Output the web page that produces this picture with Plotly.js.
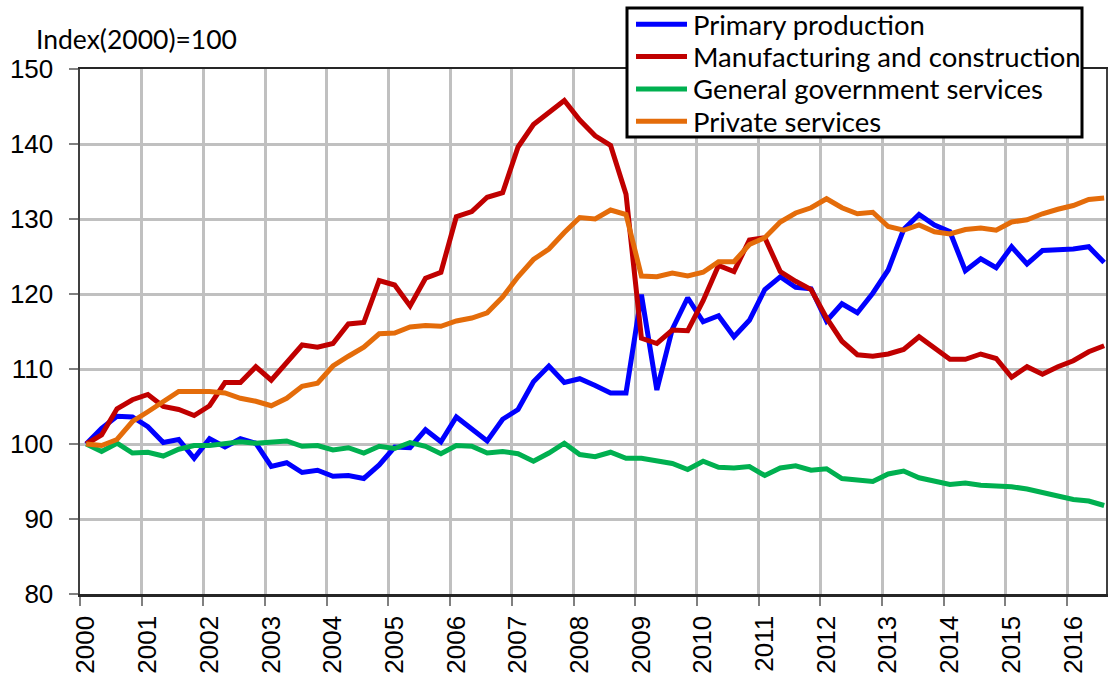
<!DOCTYPE html>
<html>
<head>
<meta charset="utf-8">
<script src="https://cdn.plot.ly/plotly-3.0.1.min.js"></script>
<style>
html,body{margin:0;padding:0;background:#fff;}
#chart{width:1108px;height:675px;}
</style>
</head>
<body>
<div id="chart"></div>
<script>
// Quarters 2000Q1 .. 2016Q3
const quarters = [
 "2000Q1","2000Q2","2000Q3","2000Q4","2001Q1","2001Q2","2001Q3","2001Q4",
 "2002Q1","2002Q2","2002Q3","2002Q4","2003Q1","2003Q2","2003Q3","2003Q4",
 "2004Q1","2004Q2","2004Q3","2004Q4","2005Q1","2005Q2","2005Q3","2005Q4",
 "2006Q1","2006Q2","2006Q3","2006Q4","2007Q1","2007Q2","2007Q3","2007Q4",
 "2008Q1","2008Q2","2008Q3","2008Q4","2009Q1","2009Q2","2009Q3","2009Q4",
 "2010Q1","2010Q2","2010Q3","2010Q4","2011Q1","2011Q2","2011Q3","2011Q4",
 "2012Q1","2012Q2","2012Q3","2012Q4","2013Q1","2013Q2","2013Q3","2013Q4",
 "2014Q1","2014Q2","2014Q3","2014Q4","2015Q1","2015Q2","2015Q3","2015Q4",
 "2016Q1","2016Q2","2016Q3"
];

const primaryProduction = [
 100.0,102.1,103.7,103.6,102.3,100.2,100.6,98.1,100.7,99.6,
 100.7,100.1,97.0,97.5,96.2,96.5,95.7,95.8,95.4,97.2,
 99.6,99.5,101.9,100.3,103.6,102.0,100.4,103.3,104.6,108.3,
 110.4,108.2,108.7,107.8,106.8,106.8,119.9,107.2,115.3,119.5,
 116.3,117.1,114.3,116.5,120.6,122.3,120.9,120.7,116.4,118.7,
 117.5,120.1,123.2,128.6,130.6,129.2,128.3,123.1,124.7,123.5,
 126.3,124.0,125.8,125.9,126.0,126.3,124.2
];

const manufacturingConstruction = [
 100.0,101.2,104.7,105.9,106.6,105.0,104.6,103.8,105.1,108.2,
 108.2,110.3,108.5,110.8,113.2,112.9,113.4,116.0,116.2,121.8,
 121.2,118.4,122.1,122.9,130.3,131.0,132.9,133.5,139.6,142.6,
 144.1,145.8,143.2,141.1,139.8,133.3,114.1,113.4,115.2,115.1,
 119.1,123.8,123.0,127.2,127.5,123.0,121.7,120.6,116.8,113.7,
 111.9,111.7,112.0,112.6,114.3,112.8,111.3,111.3,112.0,111.4,
 108.9,110.3,109.3,110.3,111.1,112.3,113.1
];

const generalGovernment = [
 100.0,99.0,100.1,98.8,98.9,98.4,99.3,99.8,99.8,100.0,
 100.3,100.1,100.3,100.4,99.7,99.8,99.2,99.5,98.8,99.7,
 99.4,100.2,99.7,98.7,99.8,99.7,98.8,99.0,98.7,97.7,
 98.8,100.1,98.6,98.3,98.9,98.1,98.1,97.8,97.4,96.6,
 97.7,96.9,96.8,97.0,95.8,96.8,97.1,96.5,96.7,95.4,
 95.2,95.0,96.0,96.4,95.5,95.0,94.6,94.8,94.5,94.4,
 94.3,94.0,93.5,93.1,92.6,92.4,91.8
];

const privateServices = [
 100.0,99.8,100.6,103.0,104.3,105.7,107.0,107.0,107.0,106.8,
 106.1,105.7,105.1,106.1,107.7,108.1,110.4,111.7,112.9,114.7,
 114.8,115.6,115.8,115.7,116.4,116.8,117.5,119.6,122.3,124.6,
 126.0,128.2,130.2,130.0,131.2,130.6,122.4,122.3,122.8,122.4,
 122.9,124.3,124.3,126.6,127.5,129.6,130.8,131.5,132.7,131.5,
 130.7,130.9,129.0,128.5,129.2,128.3,128.0,128.6,128.8,128.5,
 129.6,129.9,130.7,131.3,131.8,132.6,132.8
];

const seriesNames = ["Primary production","Manufacturing and construction","General government services","Private services"];
const yearTicks = [2000,2001,2002,2003,2004,2005,2006,2007,2008,2009,2010,2011,2012,2013,2014,2015,2016];
const yTicks = [80,90,100,110,120,130,140,150];

// quarter label -> position on the continuous year axis
const xPos = quarters.map(q => {
  const y = parseInt(q.slice(0,4),10);
  const n = parseInt(q.slice(5),10);
  return y + (n - 1) / 4 + 0.1;
});

const colors = ["#0000FF","#C00000","#00B050","#E46C0A"];
const seriesData = [primaryProduction, manufacturingConstruction, generalGovernment, privateServices];

const traces = seriesData.map((d, k) => ({
  x: xPos, y: d, type: "scatter", mode: "lines", name: seriesNames[k],
  line: {color: colors[k], width: 5}, showlegend: false
}));

// layout geometry (pixels) -> paper coordinates
const W = 1108, H = 675;
const M = {l: 80, r: 2, t: 69, b: 81};
const PW = W - M.l - M.r, PH = H - M.t - M.b;
const px = v => (v - M.l) / PW;
const py = v => (H - M.b - v) / PH;

const textFont = "Lato, 'Open Sans', sans-serif";
const tickFont = {family: "'Liberation Sans', Arial, sans-serif", size: 26, color: "#000"};

// custom legend (box + line samples + labels)
const legendBox = {x0: 627, x1: 1082, y0: 8, y1: 137};
const legendRowY = [24.3, 56.6, 89, 121.3];
const shapes = [{
  type: "rect", xref: "paper", yref: "paper", layer: "above",
  x0: px(legendBox.x0), x1: px(legendBox.x1), y0: py(legendBox.y1), y1: py(legendBox.y0),
  fillcolor: "#fff", line: {color: "#000", width: 3}
}];
const annotations = [{
  text: "Index(2000)=100", xref: "paper", yref: "paper",
  x: px(34), y: py(39), xanchor: "left", yanchor: "middle",
  showarrow: false, font: {family: textFont, size: 26.5, color: "#000"}
}];
seriesNames.forEach((name, k) => {
  shapes.push({
    type: "line", xref: "paper", yref: "paper", layer: "above",
    x0: px(636), x1: px(687), y0: py(legendRowY[k]), y1: py(legendRowY[k]),
    line: {color: colors[k], width: 5}
  });
  annotations.push({
    text: name, xref: "paper", yref: "paper",
    x: px(691), y: py(legendRowY[k]), xanchor: "left", yanchor: "middle",
    showarrow: false, font: {family: textFont, size: 27.5, color: "#000"}
  });
});

const layout = {
  width: W, height: H,
  margin: {l: M.l, r: M.r, t: M.t, b: M.b, pad: 0},
  paper_bgcolor: "#fff", plot_bgcolor: "#fff",
  showlegend: false,
  xaxis: {
    range: [2000, 2016.63], tickmode: "array", tickvals: yearTicks,
    ticktext: yearTicks.map(String), tickangle: -90, ticklabelshift: 6,
    showgrid: true, gridcolor: "#C0C0C0", gridwidth: 3,
    showline: true, linecolor: "#262626", linewidth: 2.5, mirror: true,
    ticks: "outside", ticklen: 9, tickwidth: 2, tickcolor: "#808080",
    tickfont: tickFont, zeroline: false
  },
  yaxis: {
    range: [80, 150], tickmode: "array", tickvals: yTicks,
    showgrid: true, gridcolor: "#C0C0C0", gridwidth: 3,
    showline: true, linecolor: "#404040", linewidth: 2.5, mirror: true,
    ticks: "outside", ticklen: 9, tickwidth: 2, tickcolor: "#808080",
    ticklabelstandoff: 10,
    tickfont: tickFont, zeroline: false
  },
  shapes: shapes,
  annotations: annotations
};

Plotly.newPlot("chart", traces, layout, {displayModeBar: false, staticPlot: true});
</script>
</body>
</html>
